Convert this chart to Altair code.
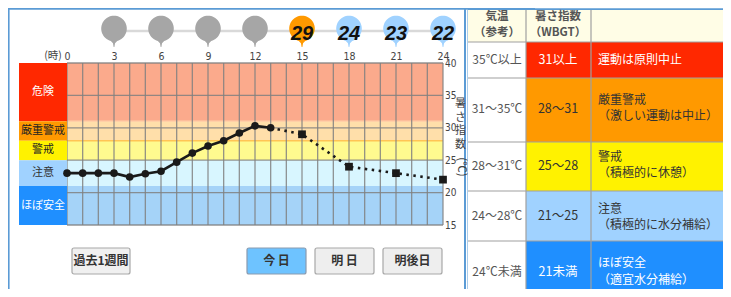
import altair as alt
import pandas as pd
import math

# ---------------- data ----------------
obs_hours = [0, 1, 2, 3, 4, 5, 6, 7, 8, 9, 10, 11, 12, 13]
obs_wbgt = [23.0, 23.0, 23.0, 23.0, 22.4, 22.9, 23.3, 24.7, 26.1, 27.2, 28.0, 29.2, 30.3, 30.0]
fc_hours = [13, 15, 18, 21, 24]
fc_wbgt = [30.0, 29, 24, 23, 22]
pin_hours = [3, 6, 9, 12, 15, 18, 21, 24]
pin_values = [None, None, None, None, 29, 24, 23, 22]
hour_ticks = [0, 3, 6, 9, 12, 15, 18, 21, 24]
wbgt_ticks = [15, 20, 25, 30, 35, 40]
level_names = ["危険", "厳重警戒", "警戒", "注意", "ほぼ安全"]
level_lo = [31, 28, 25, 21, 15]
level_hi = [40, 31, 28, 25, 21]
temp_ranges = ["35℃以上", "31～35℃", "28～31℃", "24～28℃", "24℃未満"]
wbgt_ranges = ["31以上", "28～31", "25～28", "21～25", "21未満"]
advice_title = ["運動は原則中止", "厳重警戒", "警戒", "注意", "ほぼ安全"]
advice_note = ["", "（激しい運動は中止）", "（積極的に休憩）", "（積極的に水分補給）", "（適宜水分補給）"]
header_temp = ["気温", "（参考）"]
header_wbgt = ["暑さ指数", "（WBGT）"]
button_labels = ["過去1週間", "今 日", "明 日", "明後日"]
axis_title = ["暑", "さ", "指", "数"]

# ---------------- styles ----------------
strong = ["#FF2800", "#FF9900", "#FFF200", "#A0D2FF", "#1F8FFF"]
light = ["#FBAA8C", "#FFDFAA", "#FFFA8F", "#D8F6FF", "#A5D3F8"]
label_txt = ["white", "#222", "#222", "#333", "white"]
row_txt = ["white", "#333", "#333", "#333", "white"]
pin_gray = "#A6A6A6"
CJK = "Noto Sans CJK JP"
NUM = "Liberation Sans Narrow, DejaVu Sans Condensed, sans-serif"
BLUE = "#5B9BD5"

# ---------------- layout (page pixels -> data units) ----------------
PX0, PY0, PW, PH = 67, 63, 376, 162


def hx(px):
    return (px - PX0) / PW * 24


def vy(py):
    return 40 - (py - PY0) / PH * 25


XSC = alt.Scale(domain=[0, 24], nice=False, zero=False)
YSC = alt.Scale(domain=[15, 40], nice=False, zero=False)
AX = alt.Axis(orient="top", values=hour_ticks, title=None, domain=False, ticks=False, tickSize=0,
              grid=False, labelFontSize=10.5, labelColor="#444", labelFont=NUM, labelPadding=2,
              labelFlush=False, labelOverlap=False)
AY = alt.Axis(orient="right", values=wbgt_ticks, title=None, domain=False, ticks=False, tickSize=0,
              grid=False, labelFontSize=10, labelColor="#444", labelFont=NUM, labelPadding=1.5,
              labelFlush=False, labelOverlap=False)


def X(f):
    return alt.X(f, type="quantitative", scale=XSC, axis=AX)


def Y(f):
    return alt.Y(f, type="quantitative", scale=YSC, axis=AY)


def segs(rows):
    return pd.DataFrame(rows, columns=["x", "x2", "y", "y2"])


def seg_layer(df, color, width, **kw):
    return alt.Chart(df).mark_rule(color=color, strokeWidth=width, **kw).encode(
        x=X("x"), x2=alt.X2("x2"), y=Y("y"), y2=alt.Y2("y2"))


layers = []

# panel frames
layers.append(seg_layer(segs([
    (hx(8.6), hx(8.6), vy(8.8), vy(300)),
    (hx(8), hx(535), vy(8.8), vy(8.8)),
    (hx(465), hx(465), vy(8.8), vy(300)),
    (hx(468.5), hx(468.5), vy(9.5), vy(300)),
    (hx(468), hx(731), vy(9.3), vy(9.3)),
]), BLUE, 2))

# ---------------- table ----------------
row_top = [42, 78, 142, 191, 241]
row_bot = [78, 142, 191, 241, 300]
cols = [468, 526, 591, 731]
cells = [dict(x=hx(cols[0]), x2=hx(cols[3]), y=vy(10), y2=vy(42), f="#FFFDE6")]
for i in range(5):
    cells.append(dict(x=hx(cols[0]), x2=hx(cols[1]), y=vy(row_top[i]), y2=vy(row_bot[i]), f="white"))
    cells.append(dict(x=hx(cols[1]), x2=hx(cols[3]), y=vy(row_top[i]), y2=vy(row_bot[i]), f=strong[i]))
layers.append(alt.Chart(pd.DataFrame(cells)).mark_rect().encode(
    x=X("x"), x2=alt.X2("x2"), y=Y("y"), y2=alt.Y2("y2"), fill=alt.Fill("f:N", scale=None)))
tlines = [(hx(c), hx(c), vy(10), vy(300)) for c in cols[1:3]]
tlines += [(hx(cols[0]), hx(731), vy(r), vy(r)) for r in row_top]
layers.append(seg_layer(segs(tlines), "#A0A0A0", 1.2))

hdr = pd.DataFrame({
    "x": [hx(497)] * 2 + [hx(558)] * 2,
    "y": [vy(17), vy(33), vy(17), vy(33)],
    "t": header_temp + header_wbgt,
})
layers.append(alt.Chart(hdr).mark_text(font=CJK, fontSize=11.5, fontWeight="bold", color="#555").encode(
    x=X("x"), y=Y("y"), text="t:N"))

mid_y = [60, 109, 166, 216, 272]
c1 = pd.DataFrame({"x": [hx(497)] * 5, "y": [vy(v) for v in mid_y], "t": temp_ranges})
layers.append(alt.Chart(c1).mark_text(font=CJK, fontSize=12, color="#555").encode(
    x=X("x"), y=Y("y"), text="t:N"))
c2 = pd.DataFrame({"x": [hx(558)] * 5, "y": [vy(v) for v in mid_y], "t": wbgt_ranges, "c": row_txt})
layers.append(alt.Chart(c2).mark_text(font=CJK, fontSize=12.5).encode(
    x=X("x"), y=Y("y"), text="t:N", color=alt.Color("c:N", scale=None)))
t1_y = [60, 100, 157, 209, 263]
t2_y = [60, 116, 173, 225, 280]
c3 = pd.DataFrame({
    "x": [hx(598)] * 10,
    "y": [vy(v) for v in t1_y] + [vy(v) for v in t2_y],
    "t": advice_title + advice_note,
    "c": row_txt + row_txt,
})
layers.append(alt.Chart(c3).mark_text(font=CJK, fontSize=12, align="left").encode(
    x=X("x"), y=Y("y"), text="t:N", color=alt.Color("c:N", scale=None)))

# ---------------- plot bands ----------------
bands = pd.DataFrame({"x": 0, "x2": 24, "lo": level_lo, "hi": level_hi, "f": light})
layers.append(alt.Chart(bands).mark_rect().encode(
    x=X("x"), x2=alt.X2("x2"), y=Y("lo"), y2=alt.Y2("hi"), fill=alt.Fill("f:N", scale=None)))
layers.append(seg_layer(segs([(0, 24, 31, 31)]), "#FFD0A8", 1.5))
layers.append(seg_layer(segs([(0, 24, 28, 28)]), "#FFC455", 1.5))

# grid
vgrid = [(h, h, 15, 40) for h in range(0, 25)]
hgrid = [(0, 24, v, v) for v in range(15, 41, 5)]
layers.append(seg_layer(segs(vgrid + hgrid), "#808080", 1.3, opacity=0.85))

# left level column
lev = pd.DataFrame({"x": hx(19), "x2": 0, "lo": level_lo, "hi": level_hi, "f": strong,
                    "name": level_names, "c": label_txt,
                    "mid": [(a + b) / 2 for a, b in zip(level_lo, level_hi)], "xm": hx(43)})
layers.append(alt.Chart(lev).mark_rect().encode(
    x=X("x"), x2=alt.X2("x2"), y=Y("lo"), y2=alt.Y2("hi"), fill=alt.Fill("f:N", scale=None)))
layers.append(alt.Chart(lev).mark_text(font=CJK, fontSize=11).encode(
    x=X("xm"), y=Y("mid"), text="name:N", color=alt.Color("c:N", scale=None)))

# ---------------- pins ----------------
layers.append(seg_layer(segs([(3, 24, vy(31), vy(31))]), "#D9D9D9", 2.6))


def pin_color(v):
    if v is None:
        return pin_gray
    for lo, hi, col in zip(level_lo, level_hi, strong):
        if lo <= v < hi or (v >= 40 and hi == 40):
            return col
    return pin_gray


pts = []
a0 = math.asin(0.25)
n = 48
for k in range(n + 1):
    ang = (math.pi / 2 + a0) + k * (2 * math.pi - 2 * a0) / n
    pts.append((math.cos(ang), math.sin(ang)))
path = "M" + " L".join(f"{x:.3f},{y:.3f}" for x, y in pts) + " L0.08,1.15 L0.03,1.45 L-0.03,1.45 L-0.08,1.15 Z"

pins = pd.DataFrame({
    "hour": pin_hours,
    "y": vy(28.5),
    "ty": vy(34),
    "f": [pin_color(v) for v in pin_values],
    "t": ["" if v is None else str(v) for v in pin_values],
})
layers.append(alt.Chart(pins).mark_point(shape=path, size=655, filled=True, opacity=1, strokeWidth=0).encode(
    x=X("hour"), y=Y("y"), fill=alt.Fill("f:N", scale=None)))
layers.append(alt.Chart(pins).mark_text(font="Liberation Sans", fontSize=20, fontWeight="bold",
                                        fontStyle="italic", color="#111").encode(
    x=X("hour"), y=Y("ty"), text="t:N"))

# "(時)" label
layers.append(alt.Chart(pd.DataFrame({"x": [hx(53)], "y": [vy(56)], "t": ["(時)"]})).mark_text(
    font=CJK, fontSize=10.5, color="#444").encode(x=X("x"), y=Y("y"), text="t:N"))

# ---------------- data line ----------------
obs = pd.DataFrame({"hour": obs_hours, "wbgt": obs_wbgt})
fc = pd.DataFrame({"hour": fc_hours, "wbgt": fc_wbgt})
layers.append(alt.Chart(fc).mark_line(color="#1a1a1a", strokeWidth=2.6, strokeDash=[2.5, 4.5]).encode(
    x=X("hour"), y=Y("wbgt")))
layers.append(alt.Chart(fc[fc.hour > 13]).mark_point(shape="square", size=60, filled=True, opacity=1,
                                                    color="#1a1a1a").encode(x=X("hour"), y=Y("wbgt")))
layers.append(alt.Chart(obs).mark_line(color="#1a1a1a", strokeWidth=2.6).encode(x=X("hour"), y=Y("wbgt")))
layers.append(alt.Chart(obs).mark_point(shape="circle", size=58, filled=True, opacity=1,
                                        color="#1a1a1a").encode(x=X("hour"), y=Y("wbgt")))

# y title (vertical writing, one character per line)
ttl = pd.DataFrame({"x": [hx(460.5)] * 4, "y": [vy(v) for v in [104, 117.5, 131, 144.5]], "t": axis_title})
layers.append(alt.Chart(ttl).mark_text(font=CJK, fontSize=11, color="#444").encode(
    x=X("x"), y=Y("y"), text="t:N"))
layers.append(alt.Chart(pd.DataFrame({"x": [hx(460.5)], "y": [vy(167)], "t": ["(℃)"]})).mark_text(
    font=CJK, fontSize=11.5, angle=90, color="#444").encode(x=X("x"), y=Y("y"), text="t:N"))

# ---------------- buttons ----------------
bx0 = [72, 247, 315, 383]
bx1 = [130, 306, 374, 442]
btn = pd.DataFrame({
    "x": [hx(v) for v in bx0], "x2": [hx(v) for v in bx1],
    "y": vy(248), "y2": vy(274),
    "xm": [hx((a + b) / 2) for a, b in zip(bx0, bx1)], "ym": vy(261),
    "t": button_labels,
    "f": ["#F0F0F0", "#6EC3FF", "#EEEEEE", "#EEEEEE"],
    "s": ["#A8A8A8", "#8A9BB0", "#A8A8A8", "#A8A8A8"],
})
layers.append(alt.Chart(btn).mark_rect(cornerRadius=2, strokeWidth=1.2).encode(
    x=X("x"), x2=alt.X2("x2"), y=Y("y"), y2=alt.Y2("y2"),
    fill=alt.Fill("f:N", scale=None), stroke=alt.Stroke("s:N", scale=None)))
layers.append(alt.Chart(btn).mark_text(font=CJK, fontSize=12, fontWeight="bold", color="#333").encode(
    x=X("xm"), y=Y("ym"), text="t:N"))

chart = alt.layer(*layers).properties(
    width=PW, height=PH,
    autosize=alt.AutoSizeParams(type="none"),
    padding={"left": 59, "top": 55, "right": 280, "bottom": 64},
).configure_view(stroke=None)

chart.save("out.html", embed_options={"renderer": "svg", "actions": False})
